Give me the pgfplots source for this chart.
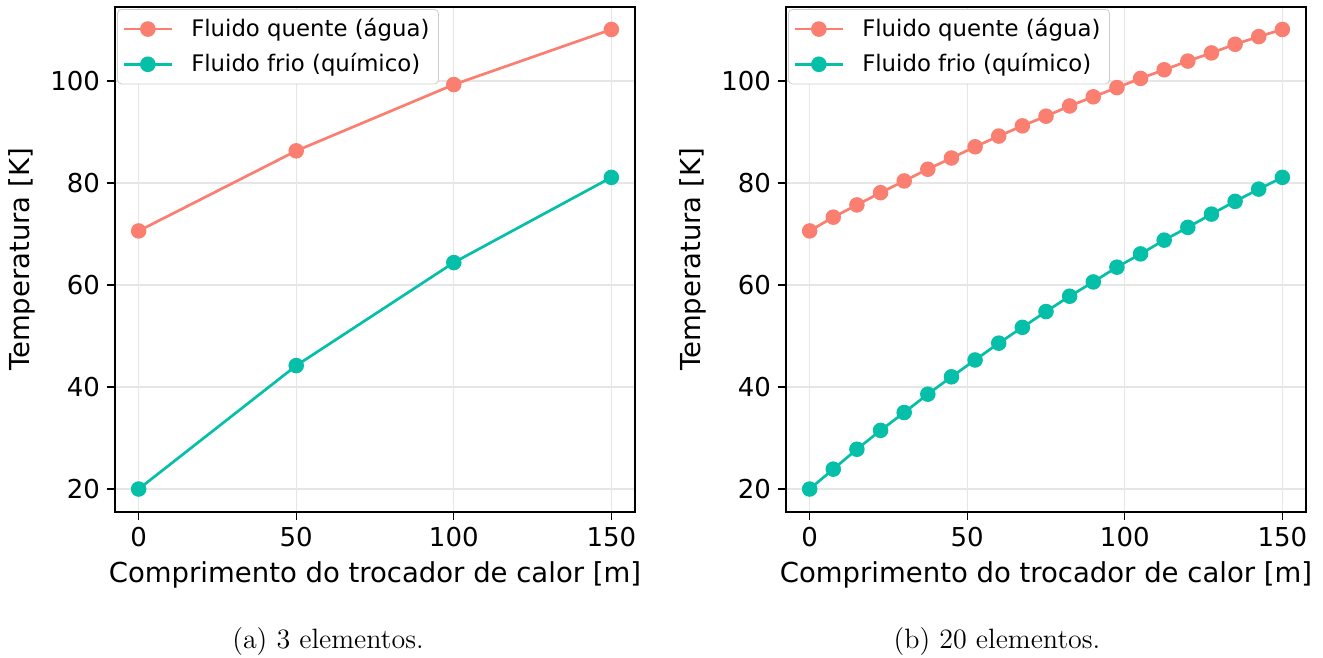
\documentclass[border=0pt]{standalone}
\usepackage{fontspec}
\setsansfont{DejaVu Sans}
\usepackage{pgfplots}
\pgfplotsset{compat=1.18}

\definecolor{quente}{RGB}{250,127,112}
\definecolor{frio}{RGB}{6,191,168}
\definecolor{grade}{RGB}{230,230,230}

% one style for both panels, sizes in pt (1 px of the target = 0.5pt)
\pgfplotsset{painel/.style={
    scale only axis, width=260pt, height=252.5pt,
    xmin=-7.5, xmax=157.5, ymin=15.5, ymax=114.5,
    xtick={0,50,100,150}, ytick={20,40,60,80,100},
    tick pos=left, tick align=outside, major tick length=4pt,
    tick style={black, line width=0.6pt},
    axis line style={line width=0.7pt},
    grid=major, major grid style={grade, line width=0.6pt},
    /pgf/number format/assume math mode=true,
    tick label style={font=\sffamily\fontsize{13}{15}\selectfont},
    xlabel={Comprimento do trocador de calor [m]},
    ylabel={Temperatura [K]},
    every axis x label/.style={at={(axis description cs:0.5,-0.1406)}, anchor=base,
        font=\sffamily\fontsize{13.75}{16}\selectfont},
    every axis y label/.style={at={(axis description cs:-0.1788,0.5)}, rotate=90, anchor=center,
        font=\sffamily\fontsize{13.75}{16}\selectfont},
    legend cell align=left,
    legend style={at={(0.004,0.996)}, anchor=north west,
        draw=black!20, rounded corners=2pt, inner xsep=2.5pt, inner ysep=2.5pt,
        font=\sffamily\fontsize{11.4}{13}\selectfont,
        nodes={inner sep=2pt}, row sep=3pt,
        /tikz/every odd column/.append style={column sep=7pt}},
    legend image code/.code={
        \draw[mark repeat=2, mark phase=2, line width=1.4pt, #1] plot coordinates {(0pt,0pt) (12pt,0pt) (24pt,0pt)};},
    every axis plot/.append style={line width=1.35pt, mark=*, mark size=3.2pt},
}}

\begin{document}
\begin{tikzpicture}
\useasboundingbox (0,0) rectangle (661.5pt,329pt);

\begin{axis}[painel, at={(57.5pt,73pt)}, anchor=south west]
  \addplot[quente, mark options={fill=quente, draw=quente}] coordinates {
    (0,70.6)(50,86.3)(100,99.3)(150,110.1)};
  \addplot[frio, mark options={fill=frio, draw=frio}] coordinates {
    (0,20.0)(50,44.2)(100,64.4)(150,81.1)};
  \legend{Fluido quente (água),Fluido frio (químico)}
\end{axis}

\begin{axis}[painel, at={(393pt,73pt)}, anchor=south west]
  \addplot[quente, mark options={fill=quente, draw=quente}] coordinates {
    (0,70.6)(7.5,73.3)(15,75.7)(22.5,78.1)(30,80.4)(37.5,82.7)(45,84.9)
    (52.5,87.1)(60,89.2)(67.5,91.2)(75,93.1)(82.5,95.1)(90,96.9)(97.5,98.7)
    (105,100.5)(112.5,102.2)(120,103.9)(127.5,105.5)(135,107.2)(142.5,108.7)(150,110.1)};
  \addplot[frio, mark options={fill=frio, draw=frio}] coordinates {
    (0,20.0)(7.5,23.9)(15,27.8)(22.5,31.5)(30,35.0)(37.5,38.6)(45,42.0)
    (52.5,45.3)(60,48.6)(67.5,51.7)(75,54.8)(82.5,57.8)(90,60.6)(97.5,63.5)
    (105,66.1)(112.5,68.8)(120,71.3)(127.5,73.9)(135,76.4)(142.5,78.8)(150,81.1)};
  \legend{Fluido quente (água),Fluido frio (químico)}
\end{axis}

\node[anchor=base, font=\fontsize{14}{16}\selectfont] at (164pt,4.5pt) {(a) 3 elementos.};
\node[anchor=base, font=\fontsize{14}{16}\selectfont] at (498.5pt,4.5pt) {(b) 20 elementos.};
\end{tikzpicture}
\end{document}
